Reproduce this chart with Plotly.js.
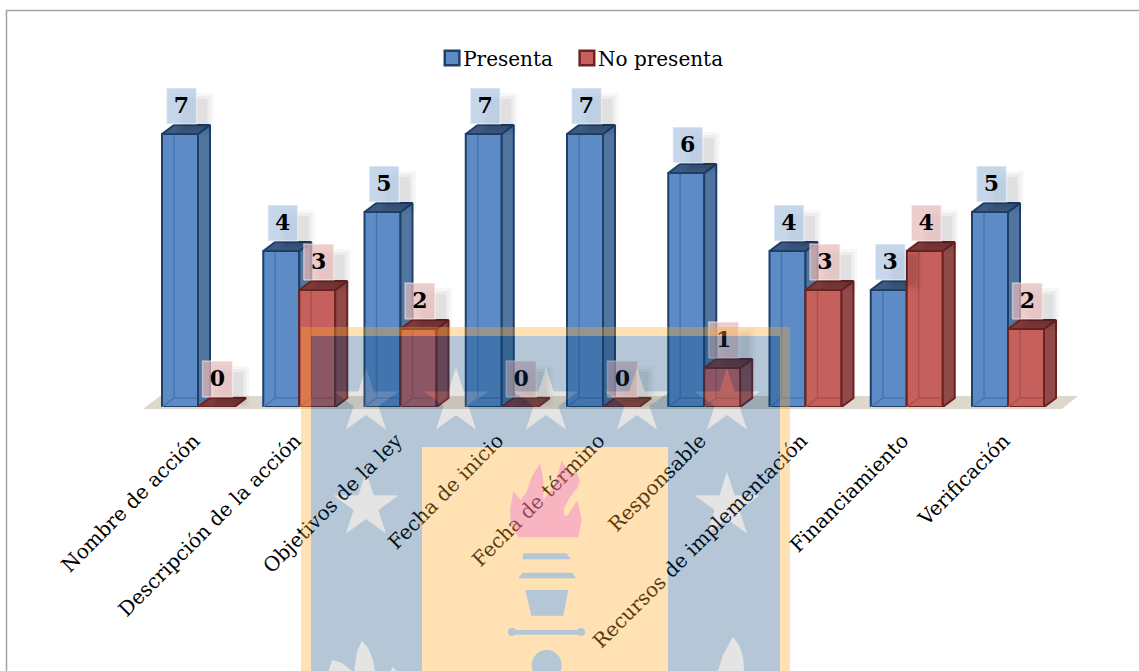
<!DOCTYPE html>
<html><head><meta charset="utf-8">
<script src="https://cdn.plot.ly/plotly-3.0.1.min.js"></script>
<style>html,body{margin:0;padding:0;background:#fff;overflow:hidden}#c{width:1139px;height:671px}</style>
</head><body><div id="c"></div>
<script>
const categories = ["Nombre de acción","Descripción de la acción","Objetivos de la ley","Fecha de inicio","Fecha de término","Responsable","Recursos de implementación","Financiamiento","Verificación"];
const presenta   = [7,4,5,7,7,6,4,3,5];
const noPresenta = [0,3,2,0,0,1,3,4,2];

const W=1139,H=671,BASE=407,PITCH=101.25,CX0=198,UNIT=39;
const pxX=p=>p/PITCH, pxY=p=>p/UNIT;
const BW=pxX(36),DX=pxX(12),DY=pxY(9);
const idx=categories.map((_,i)=>i);
const font='"DejaVu Serif", serif';

function polys(list){const x=[],y=[];list.forEach(p=>{p.forEach(q=>{x.push(q[0]);y.push(q[1])});x.push(p[0][0],null);y.push(p[0][1],null)});return{x,y};}
function faceTrace(list,fill,line,ax,lw){const g=polys(list);return{type:'scatter',mode:'lines',x:g.x,y:g.y,fill:fill?'toself':'none',fillcolor:fill||undefined,line:{color:line,width:lw===undefined?2:lw},hoverinfo:'skip',showlegend:false,xaxis:ax[0],yaxis:ax[1]};}

function series(vals,name,off,c,ax){
  const L=i=>i+off, R=i=>i+off+BW;
  const tr=[];
  tr.push({type:'bar',name:name,x:idx,y:vals,width:BW,offset:off,marker:{color:c.front,line:{color:c.edge,width:2}},hoverinfo:'x+y',xaxis:ax[0],yaxis:ax[1]});
  tr.push(faceTrace(vals.map((v,i)=>[[L(i)+DX,DY],[L(i)+DX,v+DY],[L(i)+DX,DY],[R(i)+DX,DY],[L(i)+DX,DY],[L(i),0]]),null,c.inner,ax,1.5));
  tr.push(faceTrace(vals.map((v,i)=>[[R(i),0],[R(i)+DX,DY],[R(i)+DX,v+DY],[R(i),v]]),c.side,c.edge,ax));
  tr.push(faceTrace(vals.map((v,i)=>[[L(i),v],[L(i)+DX,v+DY],[R(i)+DX,v+DY],[R(i),v]]),c.top,c.edge,ax));
  return tr;
}
function labels(vals,off,box,ax){
  const cx=i=>i+off+BW/2+pxX(1.5), hw=pxX(15);
  const rect=(v,i,dx,dy,g)=>{const gx=pxX(g);return [[cx(i)-hw-gx+dx,v+pxY(10-g)+dy],[cx(i)+hw+gx+dx,v+pxY(10-g)+dy],[cx(i)+hw+gx+dx,v+pxY(46+g)+dy],[cx(i)-hw-gx+dx,v+pxY(46+g)+dy]];};
  const out=[];
  [[3,.03],[0,.04],[-3,.05]].forEach(s=>{
    out.push(faceTrace(vals.map((v,i)=>rect(v,i,pxX(14),-pxY(8),s[0])),'rgba(0,0,0,'+s[1]+')','rgba(0,0,0,0)',ax,0.5));
  });
  out.push(faceTrace(vals.map((v,i)=>rect(v,i,0,0,0)),box,'rgba(255,255,255,0.45)',ax,1.5));
  out.push({type:'scatter',mode:'text',x:vals.map((v,i)=>cx(i)),y:vals.map(v=>v+pxY(27)),text:vals.map(String),textposition:'middle center',textfont:{family:font,size:22,color:'#000',weight:700},hoverinfo:'skip',showlegend:false,xaxis:ax[0],yaxis:ax[1]});
  return out;
}
const blue={front:'#5d8bc6',edge:'#1f3f68',inner:'#4575b0',side:'#50759f',top:'#3c5a82'};
const red={front:'#c6605d',edge:'#6b2322',inner:'#ab5050',side:'#8f4a49',top:'#7c3a39'};
const data=[
  ...series(presenta,'Presenta',-BW,blue,['x','y']),
  ...series(noPresenta,'No presenta',0,red,['x2','y2']),
  ...labels(presenta,-BW,'rgba(176,199,229,0.72)',['x2','y2']),
  ...labels(noPresenta,0,'rgba(232,186,186,0.72)',['x2','y2'])
];

/* decorative page furniture, in pixel positions */
const PX=p=>p/W, PY=p=>(BASE-p)/BASE;
const P=a=>a.map((q,i)=>(i?'L':'M')+PX(q[0])+','+PY(q[1])).join(' ')+' Z';
function star(cx,cy,R){const a=[];for(let k=0;k<10;k++){const r=k%2?R*0.382:R,t=-Math.PI/2+k*Math.PI/5;a.push([cx+r*Math.cos(t),cy+r*Math.sin(t)]);}return a;}
const rectP=(x0,y0,x1,y1)=>[[x0,y0],[x1,y0],[x1,y1],[x0,y1]];
const zoomP=a=>a.map(q=>[300+q[0]/3,320+q[1]/3]);
const zoomF=a=>a.map(q=>[490+q[0]/3,450+q[1]/3]);
const stars=[[366,402],[456,402],[546,402],[637,402],[727,402],[366,506],[727,506]].map(s=>star(s[0],s[1],34));
const petals=[
 [[361.7,640.7],[368,648],[373,660],[375,672],[376,680],[354,680],[355,665],[357,652]],
 [[332,660],[342,663],[352,671],[356,680],[328,680],[329,670]],
 [[393,667],[400,676],[402,680],[385,680]],
 [[733,637],[739,645],[743,657],[744,671],[745,680],[716,680],[718,671],[723,655]]];
const holes=stars.concat(petals);
const BLUE='rgba(0,61,116,0.29)',ORANGE='rgba(255,170,40,0.35)',GREY='rgba(120,120,120,0.2)',SOLID='#b5c6d6';
const flame=zoomF([[85,262],[62,215],[60,180],[70,122],[92,150],[110,125],[125,80],[150,40],[160,90],[160,150],[190,110],[205,70],[215,32],[240,70],[262,70],[270,95],[262,115],[250,128],[238,145],[222,175],[222,195],[232,198],[262,150],[275,210],[265,262]]);
const shapes=[
 {type:'path',xref:'paper',yref:'paper',layer:'below',path:P([[160,396],[1078,396],[1062,409],[143,409]]),fillcolor:'#dcd8cc',line:{width:0}},
 {type:'path',xref:'paper',yref:'paper',layer:'below',path:'M'+PX(6.5)+','+PY(H+5)+' L'+PX(6.5)+','+PY(10.5)+' L'+PX(W+5)+','+PY(10.5),fillcolor:'rgba(0,0,0,0)',line:{color:'#a3a3a3',width:1.5}},
 {type:'path',xref:'paper',yref:'paper',layer:'above',fillrule:'evenodd',path:P(rectP(301,327,790,690))+' '+P(rectP(311,336,780,690)),fillcolor:ORANGE,line:{width:0}},
 {type:'path',xref:'paper',yref:'paper',layer:'above',fillrule:'evenodd',path:P(rectP(311,336,780,690))+' '+P(rectP(422,447,668,690))+' '+holes.map(P).join(' '),fillcolor:BLUE,line:{width:0}},
 {type:'path',xref:'paper',yref:'paper',layer:'above',path:holes.map(P).join(' '),fillcolor:GREY,line:{width:0}},
 {type:'path',xref:'paper',yref:'paper',layer:'above',path:P(rectP(422,447,668,690)),fillcolor:ORANGE,line:{width:0}},
 {type:'path',xref:'paper',yref:'paper',layer:'above',path:P(flame),fillcolor:'rgba(236,101,219,0.35)',line:{width:0}},
 ...[[[670,700],[800,700],[812,718],[668,718]],[[668,758],[818,758],[828,775],[654,775]],[[676,810],[805,810],[790,887],[694,887]],[[632,930],[848,930],[848,944],[632,944]]].map(a=>({type:'path',xref:'paper',yref:'paper',layer:'above',path:P(zoomP(a)),fillcolor:SOLID,line:{width:0}})),
 {type:'circle',xref:'paper',yref:'paper',layer:'above',x0:PX(508),x1:PX(516),y0:PY(636),y1:PY(628),fillcolor:SOLID,line:{width:0}},
 {type:'circle',xref:'paper',yref:'paper',layer:'above',x0:PX(577),x1:PX(585),y0:PY(636),y1:PY(628),fillcolor:SOLID,line:{width:0}},
 {type:'circle',xref:'paper',yref:'paper',layer:'above',x0:PX(531.7),x1:PX(561.7),y0:PY(680),y1:PY(650),fillcolor:SOLID,line:{width:0}}
];
const xr=[-CX0/PITCH,(W-CX0)/PITCH], yr=[0,BASE/UNIT];
const layout={
  width:W,height:H,margin:{l:0,r:0,t:0,b:H-BASE,pad:0},paper_bgcolor:'#fff',plot_bgcolor:'rgba(0,0,0,0)',showlegend:true,
  xaxis:{range:xr,tickmode:'array',tickvals:idx,ticktext:categories,tickangle:-45,showgrid:false,zeroline:false,showline:false,ticks:'outside',ticklen:13,tickcolor:'rgba(0,0,0,0)',ticklabelshift:-4,tickfont:{family:font,size:20,color:'#000'},automargin:false,fixedrange:true},
  yaxis:{range:yr,visible:false,fixedrange:true,automargin:false},
  xaxis2:{range:xr,overlaying:'x',visible:false,fixedrange:true},
  yaxis2:{range:yr,overlaying:'y',visible:false,fixedrange:true},
  legend:{orientation:'h',x:0.5054,xanchor:'center',y:(BASE-58)/BASE,yanchor:'middle',font:{family:font,size:20,color:'#000'},bgcolor:'rgba(0,0,0,0)'},
  shapes:shapes
};
Plotly.newPlot('c',data,layout,{displayModeBar:false,staticPlot:true}).then(()=>{
  document.querySelectorAll('.legend .legendsymbols').forEach(g=>g.setAttribute('transform','translate(4.5,0) scale(1.22)'));
});
</script></body></html>
